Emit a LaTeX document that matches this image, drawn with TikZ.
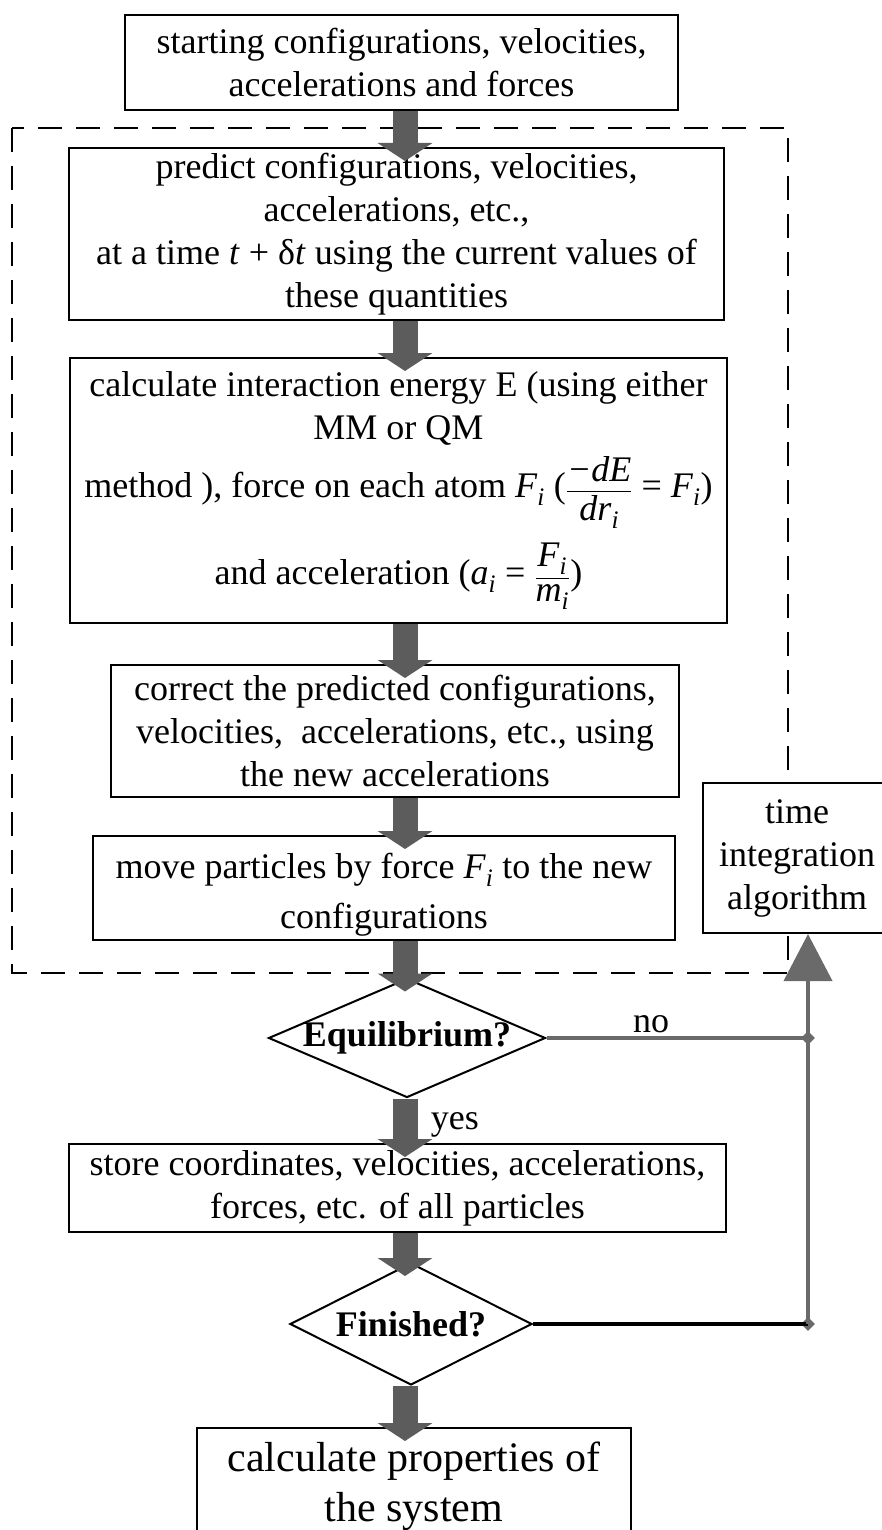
\documentclass[tikz,border=0pt]{standalone}
\usepackage{amsmath}
\usepackage{fontspec}
\setmainfont{Liberation Serif}
\usepackage{xcolor}
\definecolor{FlowGray}{HTML}{5C5C5C}
\definecolor{LineGray}{HTML}{6A6A6A}
\usepackage{tikz}
\usetikzlibrary{arrows.meta,positioning,shapes.geometric}
\newcommand{\sub}[2]{\textit{#1}\textsubscript{\textit{#2}}}

\begin{document}
\begin{tikzpicture}[x=1pt, y=-1pt,
  every node/.style={font=\fontsize{36}{43}\selectfont, align=center},
  box/.style={draw, line width=2pt, fill=white, inner sep=2pt},
  test/.style={draw, diamond, line width=2pt, fill=white, inner sep=0pt, font=\fontsize{36}{43}\selectfont\bfseries},
  flow/.style={draw=FlowGray, line width=25pt, shorten >=-14pt, -{Triangle[width=54pt, length=18pt]}},
  back/.style={draw=LineGray, line width=4pt},
  junc/.style={diamond, fill=LineGray, inner sep=0pt, minimum size=14pt}]
  \useasboundingbox (0,0) rectangle (882,1530);
  % integration loop
  \draw[dashed, dash pattern=on 24pt off 14pt, line width=2.5pt] (12,128) rectangle (788,973);
  \node[box, minimum width=553pt, minimum height=95pt] (start) at (401.5,62.5) {starting configurations, velocities,\\ accelerations and forces};
  \node[box, minimum width=655pt, minimum height=172pt, inner ysep=0pt] (predict) at (396.5,234) {predict configurations, velocities,\\ accelerations, etc.,\\ at a time \textit{t} + δ\textit{t} using the current values of\\ these quantities};
  \node[box, minimum width=657pt, minimum height=265pt] (calc) at (398.5,490.5) {calculate interaction energy E (using either\\ MM or QM\\[10pt] method ), force on each atom \sub{F}{i} ($\dfrac{\text{\textit{−dE}}}{\text{\sub{dr}{i}}}$ = \sub{F}{i})\\[14pt] and acceleration (\sub{a}{i} = $\dfrac{\text{\sub{F}{i}}}{\text{\sub{m}{i}}}$)};
  \node[box, minimum width=568pt, minimum height=132pt] (correct) at (395,731) {correct the predicted configurations,\\ velocities,\ \ accelerations, etc., using\\ the new accelerations};
  \node[box, minimum width=582pt, minimum height=104pt] (move) at (384,888) {\rule{0pt}{38pt}move particles by force \sub{F}{i} to the new\\[7pt] configurations};
  \node[box, minimum width=188pt, minimum height=150pt] (time) at (797,858) {time\\ integration\\ algorithm};
  \node[test, minimum width=277pt, minimum height=119pt] (equil) at (407,1038) {\makebox[0pt]{Equilibrium?}};
  \node[box, minimum width=657pt, minimum height=88pt] (store) at (397.5,1188) {store coordinates, velocities, accelerations,\\ forces, etc. of all particles};
  \node[test, minimum width=242pt, minimum height=122pt] (fin) at (411,1324) {\makebox[0pt]{Finished?}};
  \node[box, minimum width=434pt, minimum height=116pt, font=\fontsize{42}{50}\selectfont] (final) at (414,1486) {calculate properties of\\ the system};
  \coordinate (spine) at (405,0);
  \node[junc] (jno) at (808,1038) {};
  \node[junc] (jfin) at (808,1324) {};

  \draw[flow] (start.south -| spine) -- (predict.north -| spine);
  \draw[flow] (predict.south -| spine) -- (calc.north -| spine);
  \draw[flow] (calc.south -| spine) -- (correct.north -| spine);
  \draw[flow] (correct.south -| spine) -- (move.north -| spine);
  \draw[flow] (move.south -| spine) -- (equil.north -| spine);
  \draw[flow] (equil.south -| spine) -- node[right, xshift=10pt, pos=0.6]{yes} (store.north -| spine);
  \draw[flow] (store.south -| spine) -- (fin.north -| spine);
  \draw[flow] (fin.south -| spine) -- (final.north -| spine);
  \draw[back] (equil.east) -- node[above, pos=0.4]{no} (jno.center);
  \draw[back, draw=black] (fin.east) -- (jfin.center);
  \draw[back, -{Triangle[width=48pt, length=47pt]}] (jfin.center) -- (jno.center) -- (jno |- time.south);
\end{tikzpicture}
\end{document}
